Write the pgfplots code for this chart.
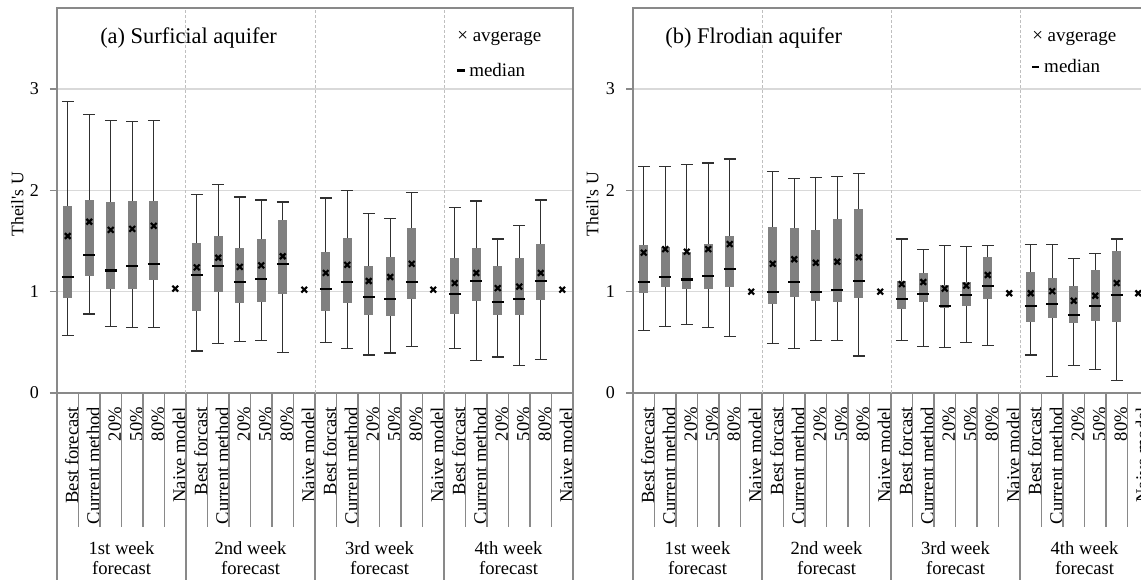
\documentclass[border=0pt]{standalone}
\usepackage{fontspec}
\setmainfont{Liberation Serif}
\usepackage{pgfplots}
\usepackage{pgfplotstable}
\pgfplotsset{compat=1.18}
\usepgfplotslibrary{statistics}
\definecolor{boxgray}{HTML}{808080}
\definecolor{gridgray}{HTML}{D9D9D9}
\definecolor{axgray}{HTML}{898989}
\definecolor{dashgray}{HTML}{BFBFBF}
\definecolor{whisk}{HTML}{303030}
\newcommand{\bx}[6]{\addplot[boxplot prepared={draw position=#1,lower whisker=#2,lower quartile=#3,median=#4,upper quartile=#5,upper whisker=#6}] coordinates {};}
\newcommand{\catfont}{\fontsize{9.3pt}{10pt}\selectfont}

% average values (x = category position)
\pgfplotstableread{
x y
0.5 1.55
1.5 1.69
2.5 1.61
3.5 1.62
4.5 1.65
5.5 1.03
6.5 1.24
7.5 1.335
8.5 1.245
9.5 1.26
10.5 1.35
11.5 1.02
12.5 1.185
13.5 1.265
14.5 1.105
15.5 1.145
16.5 1.275
17.5 1.02
18.5 1.085
19.5 1.185
20.5 1.035
21.5 1.05
22.5 1.185
23.5 1.02
}\avgA
\pgfplotstableread{
x y
0.5 1.385
1.5 1.42
2.5 1.395
3.5 1.42
4.5 1.47
5.5 1.0
6.5 1.275
7.5 1.32
8.5 1.285
9.5 1.295
10.5 1.34
11.5 1.0
12.5 1.075
13.5 1.095
14.5 1.03
15.5 1.06
16.5 1.165
17.5 0.985
18.5 0.985
19.5 1.005
20.5 0.91
21.5 0.96
22.5 1.085
23.5 0.985
}\avgB

\pgfplotsset{panel/.style={
  scale only axis, width=258pt, height=192.5pt,
  xmin=0, xmax=24, ymin=0, ymax=3.8,
  clip=false, anchor=south west,
  ytick={0,1,2,3}, ytick pos=left, tick align=outside, major tick length=3.5pt,
  ymajorgrids, grid style={draw=gridgray, line width=0.6pt},
  axis line style={draw=axgray, line width=0.6pt},
  y tick style={draw=axgray, line width=0.6pt},
  x tick style={draw=none},
  xtick={0.5,1.5,...,23.5},
  xticklabel style={rotate=90, anchor=east, font=\catfont, yshift=-2pt},
  yticklabel style={font=\fontsize{9pt}{10pt}\selectfont, xshift=-2pt},
  /pgf/number format/assume math mode=true,
  boxplot/draw direction=y,
  boxplot/box extend=0.42, boxplot/whisker extend=0.54,
  boxplot/every box/.style={fill=boxgray, draw=none},
  boxplot/every whisker/.style={whisk, line width=0.55pt},
  boxplot/every median/.style={black, line width=1.1pt},
  boxplot/draw/median/.code={\draw[/pgfplots/boxplot/every median/.try] (boxplot box cs:\pgfplotsboxplotvalue{median},-0.16) -- (boxplot box cs:\pgfplotsboxplotvalue{median},1.16);},
}}

\newcommand{\decor}{%
  \pgfplotsinvokeforeach{1,2,3,4,5,7,8,9,10,11,13,14,15,16,17,19,20,21,22,23}{\draw[axgray, line width=0.6pt] (axis cs:##1,0) -- ++(0,-67pt);}
  \pgfplotsinvokeforeach{0,6,12,18,24}{\draw[axgray, line width=0.6pt] (axis cs:##1,0) -- ++(0,-94pt);}
  \pgfplotsinvokeforeach{6,12,18}{\draw[dashgray, line width=0.5pt, dash pattern=on 1.5pt off 1pt] (axis cs:##1,0) -- (axis cs:##1,3.8);}
  \node[align=center, font=\catfont] at (axis cs:3,0) [yshift=-82.5pt] {1st week\\forecast};
  \node[align=center, font=\catfont] at (axis cs:9,0) [yshift=-82.5pt] {2nd week\\forecast};
  \node[align=center, font=\catfont] at (axis cs:15,0) [yshift=-82.5pt] {3rd week\\forecast};
  \node[align=center, font=\catfont] at (axis cs:21,0) [yshift=-82.5pt] {4th week\\forecast};
}

\begin{document}
\begin{tikzpicture}
% ---------------- (a) ----------------
\begin{axis}[panel, at={(28.5pt,93pt)},
  xticklabels={Best forecast, Current method, 20\%, 50\%, 80\%, Naive model,
               Best forcast, Current method, 20\%, 50\%, 80\%, Naive model,
               Best forcast, Current method, 20\%, 50\%, 80\%, Naive model,
               Best forcast, Current method, 20\%, 50\%, 80\%, Naive model}]
\decor
\bx{0.5}{0.57}{0.94}{1.145}{1.85}{2.88}
\bx{1.5}{0.78}{1.155}{1.36}{1.905}{2.75}
\bx{2.5}{0.655}{1.03}{1.21}{1.885}{2.69}
\bx{3.5}{0.645}{1.03}{1.255}{1.895}{2.68}
\bx{4.5}{0.645}{1.12}{1.275}{1.895}{2.69}
\bx{6.5}{0.415}{0.81}{1.165}{1.48}{1.96}
\bx{7.5}{0.49}{1.0}{1.255}{1.55}{2.06}
\bx{8.5}{0.505}{0.885}{1.095}{1.43}{1.935}
\bx{9.5}{0.515}{0.895}{1.125}{1.52}{1.905}
\bx{10.5}{0.40}{0.98}{1.275}{1.71}{1.885}
\bx{12.5}{0.50}{0.81}{1.03}{1.39}{1.925}
\bx{13.5}{0.44}{0.885}{1.095}{1.53}{1.995}
\bx{14.5}{0.375}{0.77}{0.95}{1.255}{1.775}
\bx{15.5}{0.395}{0.76}{0.93}{1.345}{1.725}
\bx{16.5}{0.46}{0.925}{1.095}{1.63}{1.98}
\bx{18.5}{0.44}{0.78}{0.975}{1.335}{1.83}
\bx{19.5}{0.325}{0.91}{1.105}{1.43}{1.895}
\bx{20.5}{0.355}{0.77}{0.895}{1.255}{1.52}
\bx{21.5}{0.275}{0.77}{0.93}{1.33}{1.65}
\bx{22.5}{0.335}{0.92}{1.105}{1.47}{1.905}
\addplot[only marks, mark=x, mark size=2pt, black, line width=1.1pt] table[x=x,y=y] {\avgA};
\node[rotate=90, font=\fontsize{8.8pt}{10pt}\selectfont] at (axis description cs:-0.077,0.49) {Theil\textquotesingle s U};
\node[font=\fontsize{11.2pt}{13pt}\selectfont] at (axis description cs:0.255,0.922) {(a) Surficial aquifer};
\node[anchor=west, inner sep=0pt, font=\fontsize{9.5pt}{11pt}\selectfont] at (axis description cs:0.775,0.922) {× avgerage};
\node[anchor=west, inner sep=0pt, font=\fontsize{9.5pt}{11pt}\selectfont] at (axis description cs:0.775,0.84) {\rule[0.22em]{0.38em}{0.13em} median};
\end{axis}
% ---------------- (b) ----------------
\begin{axis}[panel, at={(316.5pt,93pt)},
  xticklabels={Best forecast, Current method, 20\%, 50\%, 80\%, Naive model,
               Best forcast, Current method, 20\%, 50\%, 80\%, Naive model,
               Best forcast, Current method, 20\%, 50\%, 80\%, Naive model,
               Best forcast, Current method, 20\%, 50\%, 80\%, Naive model}]
\decor
\bx{0.5}{0.62}{0.99}{1.095}{1.46}{2.24}
\bx{1.5}{0.66}{1.045}{1.145}{1.445}{2.24}
\bx{2.5}{0.68}{1.03}{1.12}{1.39}{2.255}
\bx{3.5}{0.645}{1.03}{1.155}{1.47}{2.27}
\bx{4.5}{0.555}{1.05}{1.22}{1.55}{2.31}
\bx{6.5}{0.485}{0.88}{1.0}{1.64}{2.185}
\bx{7.5}{0.435}{0.95}{1.095}{1.63}{2.115}
\bx{8.5}{0.515}{0.91}{1.0}{1.61}{2.125}
\bx{9.5}{0.515}{0.9}{1.02}{1.715}{2.14}
\bx{10.5}{0.365}{0.94}{1.105}{1.815}{2.17}
\bx{12.5}{0.515}{0.83}{0.93}{1.105}{1.52}
\bx{13.5}{0.455}{0.9}{0.975}{1.18}{1.42}
\bx{14.5}{0.445}{0.84}{0.86}{1.065}{1.46}
\bx{15.5}{0.495}{0.86}{0.965}{1.095}{1.445}
\bx{16.5}{0.465}{0.93}{1.055}{1.34}{1.46}
\bx{18.5}{0.375}{0.70}{0.86}{1.19}{1.47}
\bx{19.5}{0.16}{0.74}{0.88}{1.14}{1.47}
\bx{20.5}{0.275}{0.69}{0.77}{1.06}{1.325}
\bx{21.5}{0.23}{0.71}{0.86}{1.215}{1.38}
\bx{22.5}{0.12}{0.70}{0.965}{1.40}{1.52}
\addplot[only marks, mark=x, mark size=2pt, black, line width=1.1pt] table[x=x,y=y] {\avgB};
\node[rotate=90, font=\fontsize{8.8pt}{10pt}\selectfont] at (axis description cs:-0.079,0.49) {Theil\textquotesingle s U};
\node[font=\fontsize{11.2pt}{13pt}\selectfont] at (axis description cs:0.234,0.922) {(b) Flrodian aquifer};
\node[anchor=west, inner sep=0pt, font=\fontsize{9.5pt}{11pt}\selectfont] at (axis description cs:0.773,0.922) {× avgerage};
\node[anchor=west, inner sep=0pt, font=\fontsize{9.5pt}{11pt}\selectfont] at (axis description cs:0.773,0.85) {\rule[0.22em]{0.38em}{0.13em} median};
\end{axis}
\pgfresetboundingbox
\useasboundingbox (0,0) rectangle (570.5pt,289.5pt);
\end{tikzpicture}
\end{document}
